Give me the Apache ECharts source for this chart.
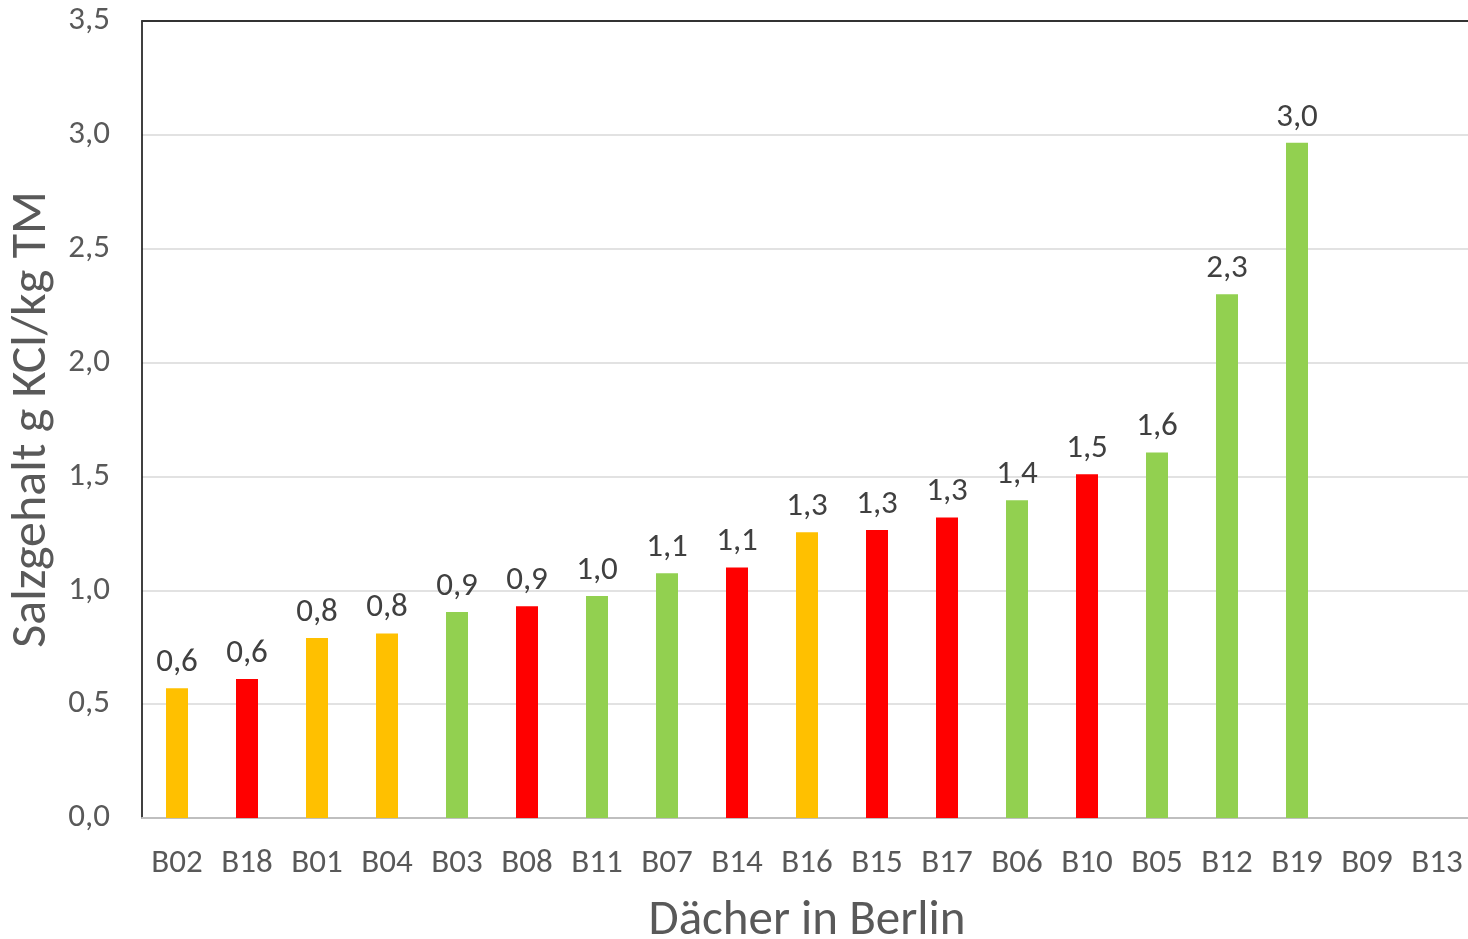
<!DOCTYPE html>
<html><head><meta charset="utf-8">
<script src="https://cdn.jsdelivr.net/npm/echarts@6/dist/echarts.min.js"></script>
<style>html,body{margin:0;padding:0;background:#fff}#c{width:1468px;height:939px}</style>
</head><body><div id="c"></div>
<script>
const categories = ['B02','B18','B01','B04','B03','B08','B11','B07','B14','B16','B15','B17','B06','B10','B05','B12','B19','B09','B13'];
const values = [0.57,0.61,0.79,0.81,0.905,0.93,0.975,1.075,1.10,1.255,1.265,1.32,1.395,1.51,1.605,2.30,2.965,null,null];
const groups = ['o','r','o','o','g','r','g','g','r','o','r','r','g','r','g','g','g','g','g'];
const yTicks = [0,0.5,1,1.5,2,2.5,3,3.5];
const palette = {o:'#FFC000', r:'#FF0000', g:'#92D050'};
const FONT = 'Carlito, Lato, sans-serif';
const fmt = v => Number(v).toFixed(1).replace('.', ',');

const chart = echarts.init(document.getElementById('c'));
chart.setOption({
  animation:false,
  grid:{left:142,right:-4,top:21,bottom:121,containLabel:false,outerBoundsMode:'none'},
  xAxis:[{
    type:'category', data:categories,
    axisLine:{show:true,lineStyle:{color:'#BFBFBF',width:2}},
    axisTick:{show:false},
    axisLabel:{color:'#595959',fontSize:33,fontFamily:FONT,margin:29},
    name:'Dächer in Berlin', nameLocation:'middle', nameGap:79,
    nameTextStyle:{color:'#595959',fontSize:49,fontFamily:FONT}
  },{
    type:'category', data:categories, position:'top',
    axisLine:{show:true,lineStyle:{color:'#333333',width:2}},
    axisTick:{show:false}, axisLabel:{show:false}
  }],
  yAxis:{
    type:'value', min:0, max:3.5, interval:0.5,
    axisLine:{show:true,lineStyle:{color:'#000000',width:1.5}},
    axisTick:{show:false},
    splitLine:{lineStyle:{color:'#D9D9D9',width:1.5}},
    axisLabel:{color:'#595959',fontSize:33,fontFamily:FONT,margin:32,
      formatter:v=>fmt(v)},
    name:'Salzgehalt g KCl/kg TM', nameLocation:'middle', nameGap:80,
    nameTextStyle:{color:'#595959',fontSize:50,fontFamily:FONT}
  },
  series:[{
    type:'bar', barWidth:22,
    data: values.map((v,i)=>({value:v,itemStyle:{color:palette[groups[i]]}})),
    label:{show:true,position:'top',distance:9,color:'#404040',fontSize:33,fontFamily:FONT,
      formatter:p=>p.value==null?'':fmt(p.value)}
  }]
});
</script></body></html>
